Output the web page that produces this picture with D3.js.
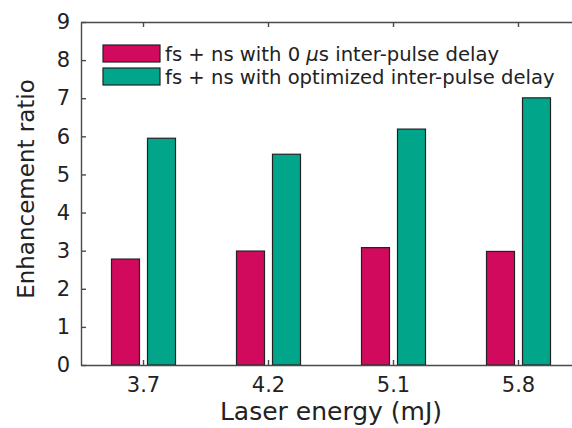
<!DOCTYPE html>
<html>
<head>
<meta charset="utf-8">
<script src="https://cdn.jsdelivr.net/npm/d3@7"></script>
<style>
  body { margin: 0; background: #fff; }
  svg { display: block; font-family: "DejaVu Sans", "Liberation Sans", Arial, sans-serif; }
</style>
</head>
<body>
<svg id="chart"></svg>
<script>
// data
var energies = ["3.7", "4.2", "5.1", "5.8"];
var zeroDelay = [2.78, 2.99, 3.08, 2.98];
var optDelay = [5.95, 5.53, 6.19, 7.01];
var seriesNames = ["fs + ns with 0 ", "fs + ns with optimized inter-pulse delay"];
var yTicks = [0, 1, 2, 3, 4, 5, 6, 7, 8, 9];

var colRed = "#d10a5e", colTeal = "#00a58a", axCol = "#4a4a4a";

var svg = d3.select("#chart").attr("width", 572).attr("height", 428);

var x = d3.scaleBand().domain(energies).range([81, 581]).padding(0);
var y = d3.scaleLinear().domain([0, 9]).range([365, 22]);

var barW = 28, off = 18;

// bars
svg.selectAll(".red").data(zeroDelay).enter().append("rect")
  .attr("x", function(d, i) { return x(energies[i]) + x.bandwidth() / 2 - off - barW / 2; })
  .attr("y", function(d) { return y(d); })
  .attr("width", barW)
  .attr("height", function(d) { return y(0) - y(d); })
  .attr("fill", colRed).attr("stroke", "#222").attr("stroke-width", 1.2);

svg.selectAll(".teal").data(optDelay).enter().append("rect")
  .attr("x", function(d, i) { return x(energies[i]) + x.bandwidth() / 2 + off - barW / 2; })
  .attr("y", function(d) { return y(d); })
  .attr("width", barW)
  .attr("height", function(d) { return y(0) - y(d); })
  .attr("fill", colTeal).attr("stroke", "#222").attr("stroke-width", 1.2);

// axes (MATLAB style, ticks pointing in)
var yAxis = d3.axisLeft(y).tickValues(yTicks).tickSizeInner(-5).tickSizeOuter(0).tickPadding(11);
var gy = svg.append("g").attr("transform", "translate(81,0)").call(yAxis);
gy.selectAll("text").style("font-size", "21px").attr("fill", "#222");

var xAxis = d3.axisBottom(x).tickSizeInner(-5).tickSizeOuter(0).tickPadding(12);
var gx = svg.append("g").attr("transform", "translate(0,365)").call(xAxis);
gx.selectAll("text").style("font-size", "21px").attr("fill", "#222");

var xTop = d3.axisTop(x).tickSizeInner(-5).tickSizeOuter(0).tickFormat("");
svg.append("g").attr("transform", "translate(0,22)").call(xTop);

svg.selectAll(".domain, .tick line").attr("stroke", axCol).attr("stroke-width", 1.4);
svg.selectAll("g").attr("font-family", null);

// axis labels
svg.append("text").attr("x", 331).attr("y", 420).attr("text-anchor", "middle")
  .style("font-size", "25px").attr("fill", "#222").text("Laser energy (mJ)");
svg.append("text").attr("transform", "translate(34,189) rotate(-90)").attr("text-anchor", "middle")
  .style("font-size", "23px").attr("fill", "#222").text("Enhancement ratio");

// legend
var lg = svg.append("g");
[colRed, colTeal].forEach(function(c, i) {
  lg.append("rect").attr("x", 103).attr("y", 45 + i * 23).attr("width", 57).attr("height", 17)
    .attr("fill", c).attr("stroke", "#222").attr("stroke-width", 1.2);
});
var t1 = lg.append("text").attr("x", 165).attr("y", 61).style("font-size", "19.6px").attr("fill", "#222");
t1.append("tspan").text(seriesNames[0]);
t1.append("tspan").style("font-style", "italic").text("\u03bc");
t1.append("tspan").text("s inter-pulse delay");
lg.append("text").attr("x", 165).attr("y", 84).style("font-size", "19.6px").attr("fill", "#222")
  .text(seriesNames[1]);
</script>
</body>
</html>
